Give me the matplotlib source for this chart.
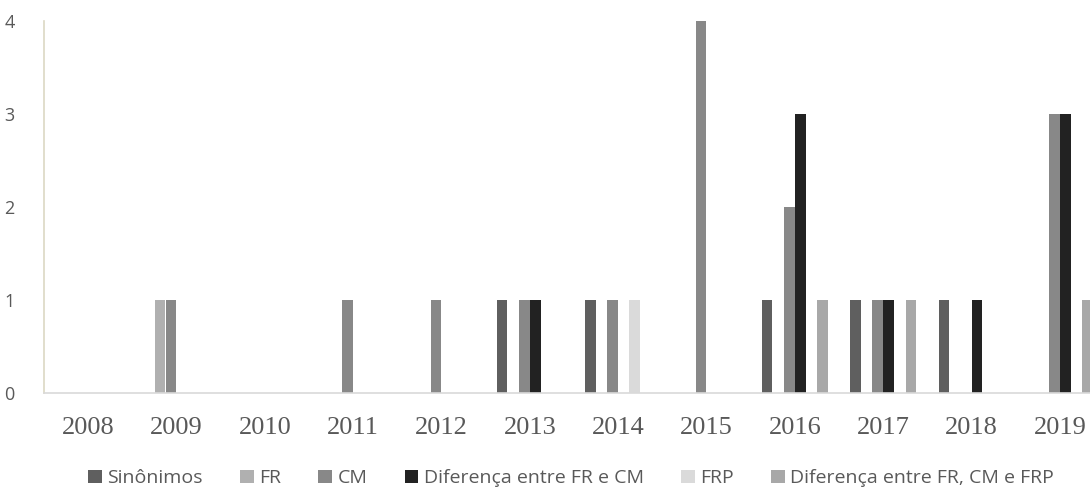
import numpy as np
import matplotlib.pyplot as plt

years = ['2008', '2009', '2010', '2011', '2012', '2013',
         '2014', '2015', '2016', '2017', '2018', '2019']

series_names = ['Sinônimos', 'FR', 'CM', 'Diferença entre FR e CM',
                'FRP', 'Diferença entre FR, CM e FRP']

sinonimos = [0, 0, 0, 0, 0, 1, 1, 0, 1, 1, 1, 0]
fr = [0, 1, 0, 0, 0, 0, 0, 0, 0, 0, 0, 0]
cm = [0, 1, 0, 1, 1, 1, 1, 4, 2, 1, 0, 3]
dif_fr_cm = [0, 0, 0, 0, 0, 1, 0, 0, 3, 1, 1, 3]
frp = [0, 0, 0, 0, 0, 0, 1, 0, 0, 0, 0, 0]
dif_fr_cm_frp = [0, 0, 0, 0, 0, 0, 0, 0, 1, 1, 0, 1]

all_series = [sinonimos, fr, cm, dif_fr_cm, frp, dif_fr_cm_frp]
colors = ['#5f5f5f', '#b0b0b0', '#888888', '#222222', '#dadada', '#a8a8a8']

fig = plt.figure(figsize=(10.9, 4.9), dpi=100)
# plot area runs a little past the right edge of the figure
ax = fig.add_axes([44 / 1090, 97 / 490, 1060 / 1090, 372 / 490])

x = np.arange(len(years))
width = 0.125
for i, (vals, name, c) in enumerate(zip(all_series, series_names, colors)):
    ax.bar(x + (i - 2.5) * width, vals, width * 0.95, color=c, label=name)

ax.set_xlim(-0.5, len(years) - 0.5)
ax.set_ylim(0, 4)
ax.set_yticks([0, 1, 2, 3, 4])
ax.set_xticks(x)
ax.set_xticklabels(years, family='Liberation Serif', fontsize=19, color='#595959')
ax.tick_params(axis='x', length=0, pad=17)
ax.tick_params(axis='y', length=0, pad=21, labelsize=13, labelcolor='#595959')
for lbl in ax.get_yticklabels():
    lbl.set_family('Open Sans')

for side in ['top', 'right']:
    ax.spines[side].set_visible(False)
ax.spines['left'].set_color('#dcd8c4')
ax.spines['left'].set_linewidth(1.2)
ax.spines['bottom'].set_color('#d9d9d9')
ax.spines['bottom'].set_linewidth(1.2)

handles, labels = ax.get_legend_handles_labels()
fig.legend(handles, labels, loc='center', bbox_to_anchor=(0.524, 0.024), ncol=6,
           frameon=False, prop={'family': 'Open Sans', 'size': 14},
           handlelength=0.7, handleheight=0.7, handletextpad=0.3,
           columnspacing=1.9, labelcolor='#595959', borderpad=0)

fig.savefig('out.png', dpi=100)
